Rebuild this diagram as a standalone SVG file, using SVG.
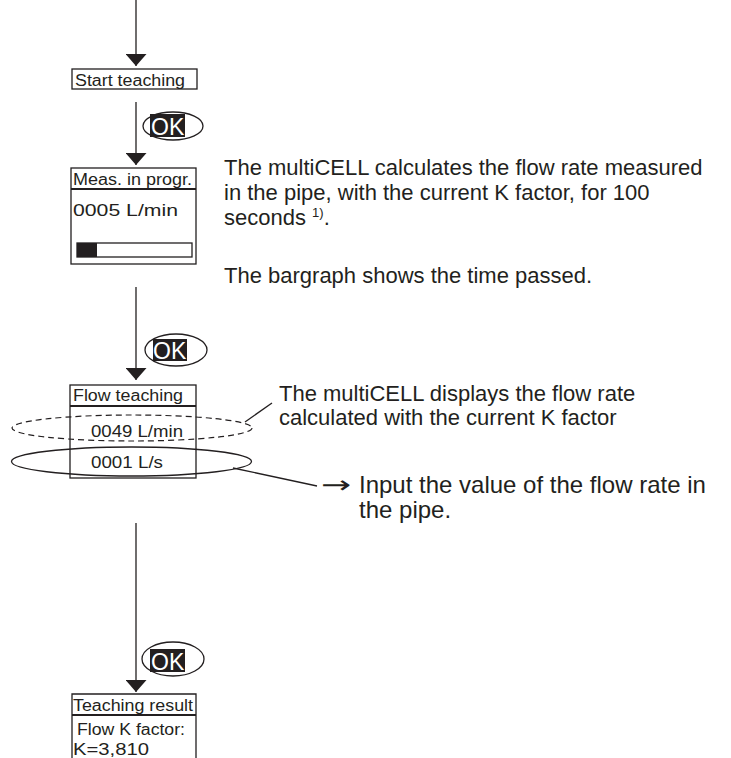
<svg xmlns="http://www.w3.org/2000/svg" width="731" height="758" viewBox="0 0 731 758">
<style>
.ln{stroke:#231f20;stroke-width:1.3;fill:none}
.box{stroke:#231f20;stroke-width:1.3;fill:#fff}
.hd{stroke:#231f20;stroke-width:2.2}
.bt{font-family:"Liberation Sans",Arial,sans-serif;font-size:16px;fill:#231f20}
.mt{font-family:"Liberation Sans",Arial,sans-serif;font-size:22px;fill:#231f20}
.ok{font-family:"Liberation Sans",Arial,sans-serif;font-size:23px;fill:#fff}
</style>
<defs>
<marker id="ah" viewBox="0 0 12 21" markerWidth="12" markerHeight="21" refX="12" refY="10.5" orient="auto" markerUnits="userSpaceOnUse">
<path d="M0,0 L12,10.5 L0,21 Z" fill="#231f20"/>
</marker>
</defs>
<g id="connectors">
<line class="ln" x1="136" y1="0" x2="136" y2="66" marker-end="url(#ah)"/>
<line class="ln" x1="136" y1="102" x2="136" y2="165" marker-end="url(#ah)"/>
<line class="ln" x1="136" y1="287" x2="136" y2="380" marker-end="url(#ah)"/>
<line class="ln" x1="136" y1="523" x2="136" y2="692" marker-end="url(#ah)"/>
<line class="ln" x1="245" y1="422" x2="272" y2="403"/>
<line class="ln" x1="233" y1="468" x2="317" y2="486"/>
</g>
<g id="ok1">
<ellipse class="ln" cx="173" cy="126" rx="30" ry="14"/>
<rect x="150" y="114" width="35" height="23" fill="#231f20"/>
<text class="ok" x="151" y="135">OK</text>
</g>
<g id="ok2">
<ellipse class="ln" cx="176" cy="350" rx="31" ry="16"/>
<rect x="153" y="339" width="34" height="22" fill="#231f20"/>
<text class="ok" x="153" y="359">OK</text>
</g>
<g id="ok3">
<ellipse class="ln" cx="173" cy="659" rx="31" ry="17"/>
<rect x="150" y="649" width="35" height="23" fill="#231f20"/>
<text class="ok" x="151" y="670">OK</text>
</g>
<g id="start">
<rect class="box" x="72" y="69" width="125" height="20"/>
<text class="bt" x="75" y="86" textLength="110" lengthAdjust="spacingAndGlyphs">Start teaching</text>
</g>
<g id="meas">
<rect class="box" x="71" y="168" width="125" height="96"/>
<line class="hd" x1="71" y1="189" x2="196" y2="189"/>
<text class="bt" x="73" y="185" textLength="119" lengthAdjust="spacingAndGlyphs">Meas. in progr.</text>
<text class="bt" x="73" y="216" style="font-size:17px" textLength="105" lengthAdjust="spacingAndGlyphs">0005 L/min</text>
<rect x="77" y="243" width="115" height="14" fill="none" stroke="#231f20" stroke-width="1.3"/>
<rect x="77" y="243" width="20" height="14" fill="#231f20"/>
</g>
<g id="flow">
<rect class="box" x="70" y="385" width="126" height="93"/>
<line class="hd" x1="70" y1="406" x2="196" y2="406"/>
<text class="bt" x="73" y="401" textLength="110" lengthAdjust="spacingAndGlyphs">Flow teaching</text>
<ellipse cx="132" cy="428" rx="120" ry="13" fill="none" stroke="#231f20" stroke-width="1.2" stroke-dasharray="6,4"/>
<text class="bt" x="91" y="437" textLength="92" lengthAdjust="spacingAndGlyphs">0049 L/min</text>
<ellipse class="ln" cx="131.5" cy="461.5" rx="120" ry="14.5"/>
<text class="bt" x="91" y="468" textLength="72" lengthAdjust="spacingAndGlyphs">0001 L/s</text>
</g>
<g id="result">
<path class="ln" d="M72,760 V694 H196 V760"/>
<line class="hd" x1="72" y1="715" x2="196" y2="715"/>
<text class="bt" x="73" y="711" textLength="120" lengthAdjust="spacingAndGlyphs">Teaching result</text>
<text class="bt" x="77" y="735" textLength="108" lengthAdjust="spacingAndGlyphs">Flow K factor:</text>
<text class="bt" x="73" y="755" textLength="76" lengthAdjust="spacingAndGlyphs">K=3,810</text>
</g>
<g id="notes">
<text class="mt" x="224" y="175">The multiCELL calculates the flow rate measured</text>
<text class="mt" x="224" y="200">in the pipe, with the current K factor, for 100</text>
<text class="mt" x="224" y="225">seconds <tspan style="font-size:13px" dy="-8">1)</tspan><tspan dy="8">.</tspan></text>
<text class="mt" x="224" y="283">The bargraph shows the time passed.</text>
<text class="mt" x="279" y="401">The multiCELL displays the flow rate</text>
<text class="mt" x="279" y="425">calculated with the current K factor</text>
<text transform="translate(321,493) scale(1.5,1)" style="font-family:'DejaVu Sans',sans-serif;font-size:24px;fill:#231f20">→</text>
<text class="mt" x="359" y="493" style="font-size:24px">Input the value of the flow rate in</text>
<text class="mt" x="359" y="518" style="font-size:24px">the pipe.</text>
</g>
</svg>
